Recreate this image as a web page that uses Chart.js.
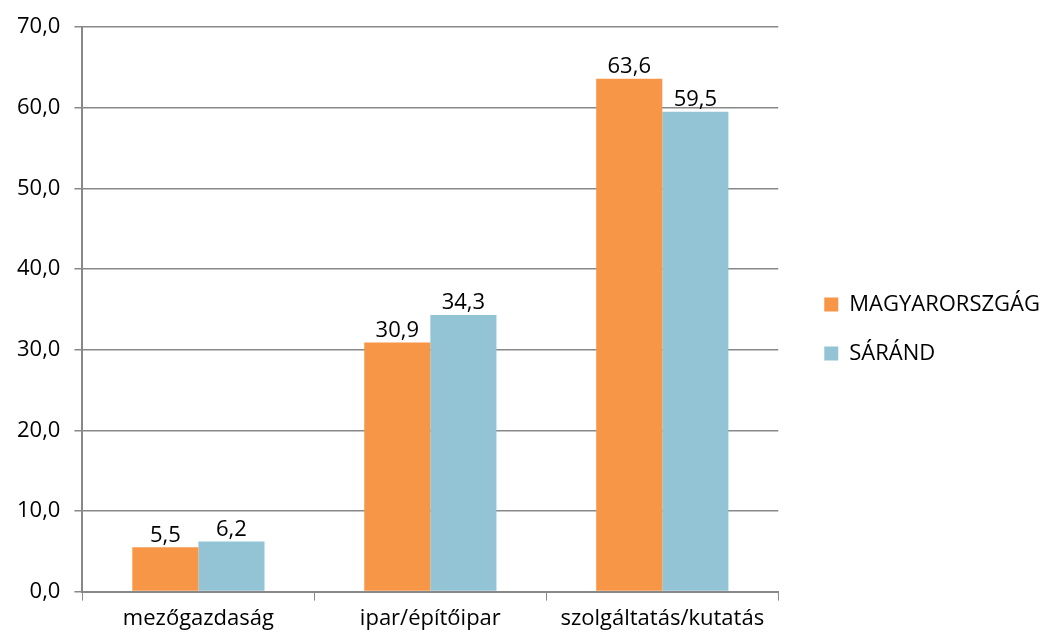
<!DOCTYPE html>
<html>
<head>
<meta charset="utf-8">
<script src="https://cdn.jsdelivr.net/npm/chart.js@4/dist/chart.umd.min.js"></script>
<style>
  html, body { margin: 0; padding: 0; background: #fff; }
  #wrap { width: 1053px; height: 637px; }
</style>
</head>
<body>
<div id="wrap"><canvas id="chart"></canvas></div>
<script>
const categories = ['mezőgazdaság', 'ipar/építőipar', 'szolgáltatás/kutatás'];
const hungary = [5.5, 30.9, 63.6];
const sarand = [6.2, 34.3, 59.5];
const seriesNames = ['MAGYARORSZGÁG', 'SÁRÁND'];

const FONT = "'Open Sans', 'Noto Sans', sans-serif";
const fmt = v => v.toFixed(1).replace('.', ',');

// values written above each bar
const barLabels = {
  id: 'barLabels',
  afterDatasetsDraw(chart) {
    const ctx = chart.ctx;
    ctx.save();
    ctx.font = '22px ' + FONT;
    ctx.fillStyle = '#000';
    ctx.textAlign = 'center';
    ctx.textBaseline = 'bottom';
    chart.data.datasets.forEach((ds, i) => {
      chart.getDatasetMeta(i).data.forEach((bar, j) => {
        ctx.fillText(fmt(ds.data[j]), bar.x, bar.y - 1);
      });
    });
    ctx.restore();
  }
};

// give the legend column more room so the plot ends where the original does,
// then push the legend items back to the right
const widerLegend = {
  id: 'widerLegend',
  beforeUpdate(chart) {
    const lg = chart.legend;
    if (lg && !lg._widened) {
      const fit = lg.fit;
      lg.fit = function () {
        fit.call(this);
        this.width += 22;
      };
      lg._widened = true;
    }
  },
  afterLayout(chart) {
    const lg = chart.legend;
    if (lg) {
      lg.left += 19;
      lg.right += 19;
    }
  }
};

new Chart(document.getElementById('chart'), {
  type: 'bar',
  data: {
    labels: categories,
    datasets: [
      { label: seriesNames[0], data: hungary, backgroundColor: '#F79646' },
      { label: seriesNames[1], data: sarand, backgroundColor: '#93C4D6' }
    ]
  },
  options: {
    responsive: true,
    maintainAspectRatio: false,
    animation: false,
    categoryPercentage: 0.57,
    barPercentage: 1,
    layout: { padding: { top: 21, left: 3, right: 0, bottom: 0 } },
    plugins: {
      legend: {
        position: 'right',
        labels: {
          font: { family: FONT, size: 22 },
          color: '#000',
          boxWidth: 14,
          boxHeight: 14,
          padding: 27
        }
      },
      tooltip: { enabled: false }
    },
    scales: {
      x: {
        grid: { drawOnChartArea: false, drawTicks: true, tickLength: 9, color: '#888' },
        border: { color: '#888', width: 2 },
        ticks: { font: { family: FONT, size: 22 }, color: '#000', padding: 5 }
      },
      y: {
        min: 0,
        max: 70,
        ticks: {
          stepSize: 10,
          font: { family: FONT, size: 22 },
          color: '#000',
          padding: 14,
          callback: v => fmt(v)
        },
        grid: { color: '#888', lineWidth: 1.5, tickLength: 8 },
        border: { color: '#888', width: 2 }
      }
    }
  },
  plugins: [barLabels, widerLegend]
});
</script>
</body>
</html>
